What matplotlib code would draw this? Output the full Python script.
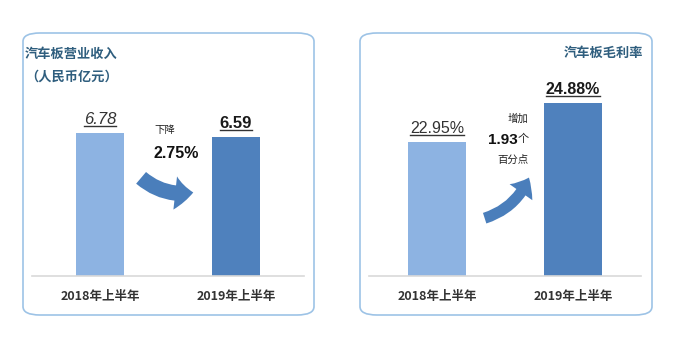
import matplotlib
matplotlib.use("Agg")
import matplotlib.pyplot as plt
from matplotlib.patches import FancyBboxPatch, FancyArrowPatch
from matplotlib.lines import Line2D

# ---- data ----
categories = ["2018年上半年", "2019年上半年"]
revenue = [6.78, 6.59]
revenue_labels = ["6.78", "6.59"]
margin = [22.95, 24.88]
margin_labels = ["22.95%", "24.88%"]
left_title = "汽车板营业收入\n（人民币亿元）"
right_title = "汽车板毛利率"
left_note = ["下降", "2.75%"]
right_note = ["增加", "1.93", "个", "百分点"]

LIGHT = "#8DB3E2"
DARK = "#4F81BD"
TITLE_C = "#2F5E7E"
BOX_C = "#9DC3E6"
NUM_FONT = ["Liberation Sans", "DejaVu Sans"]
CJK = ["Noto Sans CJK SC", "DejaVu Sans"]

W, H = 676, 338
fig = plt.figure(figsize=(W / 100, H / 100), dpi=100)
fig.patch.set_facecolor("white")


def fx(px):
    return px / W


def fy(py):
    return 1 - py / H


# rounded boxes
for x0, x1 in [(23, 314), (360, 652)]:
    fig.patches.append(FancyBboxPatch((fx(x0), fy(315)), fx(x1 - x0), (315 - 33) / H,
                                      boxstyle="round,pad=0,rounding_size=0.025",
                                      transform=fig.transFigure, fill=False,
                                      edgecolor=BOX_C, linewidth=1.2))

axL = fig.add_axes([fx(32), fy(276), fx(272), 243 / H])
axR = fig.add_axes([fx(369), fy(276), fx(272), 243 / H])

xs = [0, 1]
axL.bar(xs, revenue, width=0.36, color=[LIGHT, DARK])
axL.set_ylim(0, 11.5)
axR.bar(xs, margin, width=0.43, color=[LIGHT, DARK])
axR.set_ylim(16.32, 28.35)

for ax in (axL, axR):
    ax.set_xlim(-0.5, 1.5)
    ax.set_facecolor("none")
    for s in ["top", "right", "left"]:
        ax.spines[s].set_visible(False)
    ax.spines["bottom"].set_color("#D9D9D9")
    ax.spines["bottom"].set_linewidth(1.2)
    ax.set_yticks([])
    ax.set_xticks(xs)
    ax.set_xticklabels(categories, fontfamily=CJK, fontsize=9, fontweight="bold", color="#333333")
    ax.tick_params(axis="x", length=0, pad=10)

# value labels
texts = []
texts.append(axL.annotate(revenue_labels[0], (0, revenue[0]), xytext=(0, 6), textcoords="offset pixels",
                          ha="center", va="bottom", fontsize=12, style="italic",
                          family=NUM_FONT, color="#333333"))
texts.append(axL.annotate(revenue_labels[1], (1, revenue[1]), xytext=(0, 6), textcoords="offset pixels",
                          ha="center", va="bottom", fontsize=12, fontweight="bold",
                          family=NUM_FONT, color="#1a1a1a"))
texts.append(axR.annotate(margin_labels[0], (0, margin[0]), xytext=(0, 6), textcoords="offset pixels",
                          ha="center", va="bottom", fontsize=11.5,
                          family=NUM_FONT, color="#333333"))
texts.append(axR.annotate(margin_labels[1], (1, margin[1]), xytext=(0, 6), textcoords="offset pixels",
                          ha="center", va="bottom", fontsize=11.5, fontweight="bold",
                          family=NUM_FONT, color="#1a1a1a"))

# titles
fig.text(fx(25), fy(47), left_title, ha="left", va="top", fontsize=9.5, fontweight="bold",
         family=CJK, color=TITLE_C, linespacing=1.75)
fig.text(fx(643), fy(53), right_title, ha="right", va="center", fontsize=9.5, fontweight="bold",
         family=CJK, color=TITLE_C)

# notes
fig.text(fx(154), fy(130), left_note[0], ha="left", va="center", fontsize=7.5,
         family=CJK, color="#222222")
fig.text(fx(153), fy(153), left_note[1], ha="left", va="center", fontsize=11.5, fontweight="bold",
         family=NUM_FONT, color="#111111")
fig.text(fx(528), fy(119), right_note[0], ha="right", va="center", fontsize=7.5,
         family=CJK, color="#222222")
fig.text(fx(518), fy(140), right_note[1], ha="right", va="center", fontsize=11, fontweight="bold",
         family=NUM_FONT, color="#111111")
fig.text(fx(518), fy(139), right_note[2], ha="left", va="center", fontsize=8,
         family=CJK, color="#222222")
fig.text(fx(528), fy(160), right_note[3], ha="right", va="center", fontsize=7.5,
         family=CJK, color="#222222")

# curved arrows
arrL = FancyArrowPatch((fx(139), fy(176)), (fx(196), fy(192)), transform=fig.transFigure,
                       connectionstyle="arc3,rad=0.25",
                       arrowstyle="simple,head_length=13,head_width=24,tail_width=11",
                       color="#4A7EBB", mutation_scale=1, linewidth=0)
arrR = FancyArrowPatch((fx(482), fy(219)), (fx(530), fy(175)), transform=fig.transFigure,
                       connectionstyle="arc3,rad=0.25",
                       arrowstyle="simple,head_length=12,head_width=20,tail_width=8",
                       color="#4A7EBB", mutation_scale=1, linewidth=0)
fig.patches.extend([arrL, arrR])

# underline the value labels
fig.canvas.draw()
r = fig.canvas.get_renderer()
for t in texts:
    bb = t.get_window_extent(r)
    y = bb.y0 + 1
    fig.lines.append(Line2D([bb.x0 / W, bb.x1 / W], [y / H, y / H], transform=fig.transFigure,
                            color="#333333", linewidth=1.0))

fig.savefig("out.png", dpi=100, facecolor="white")
